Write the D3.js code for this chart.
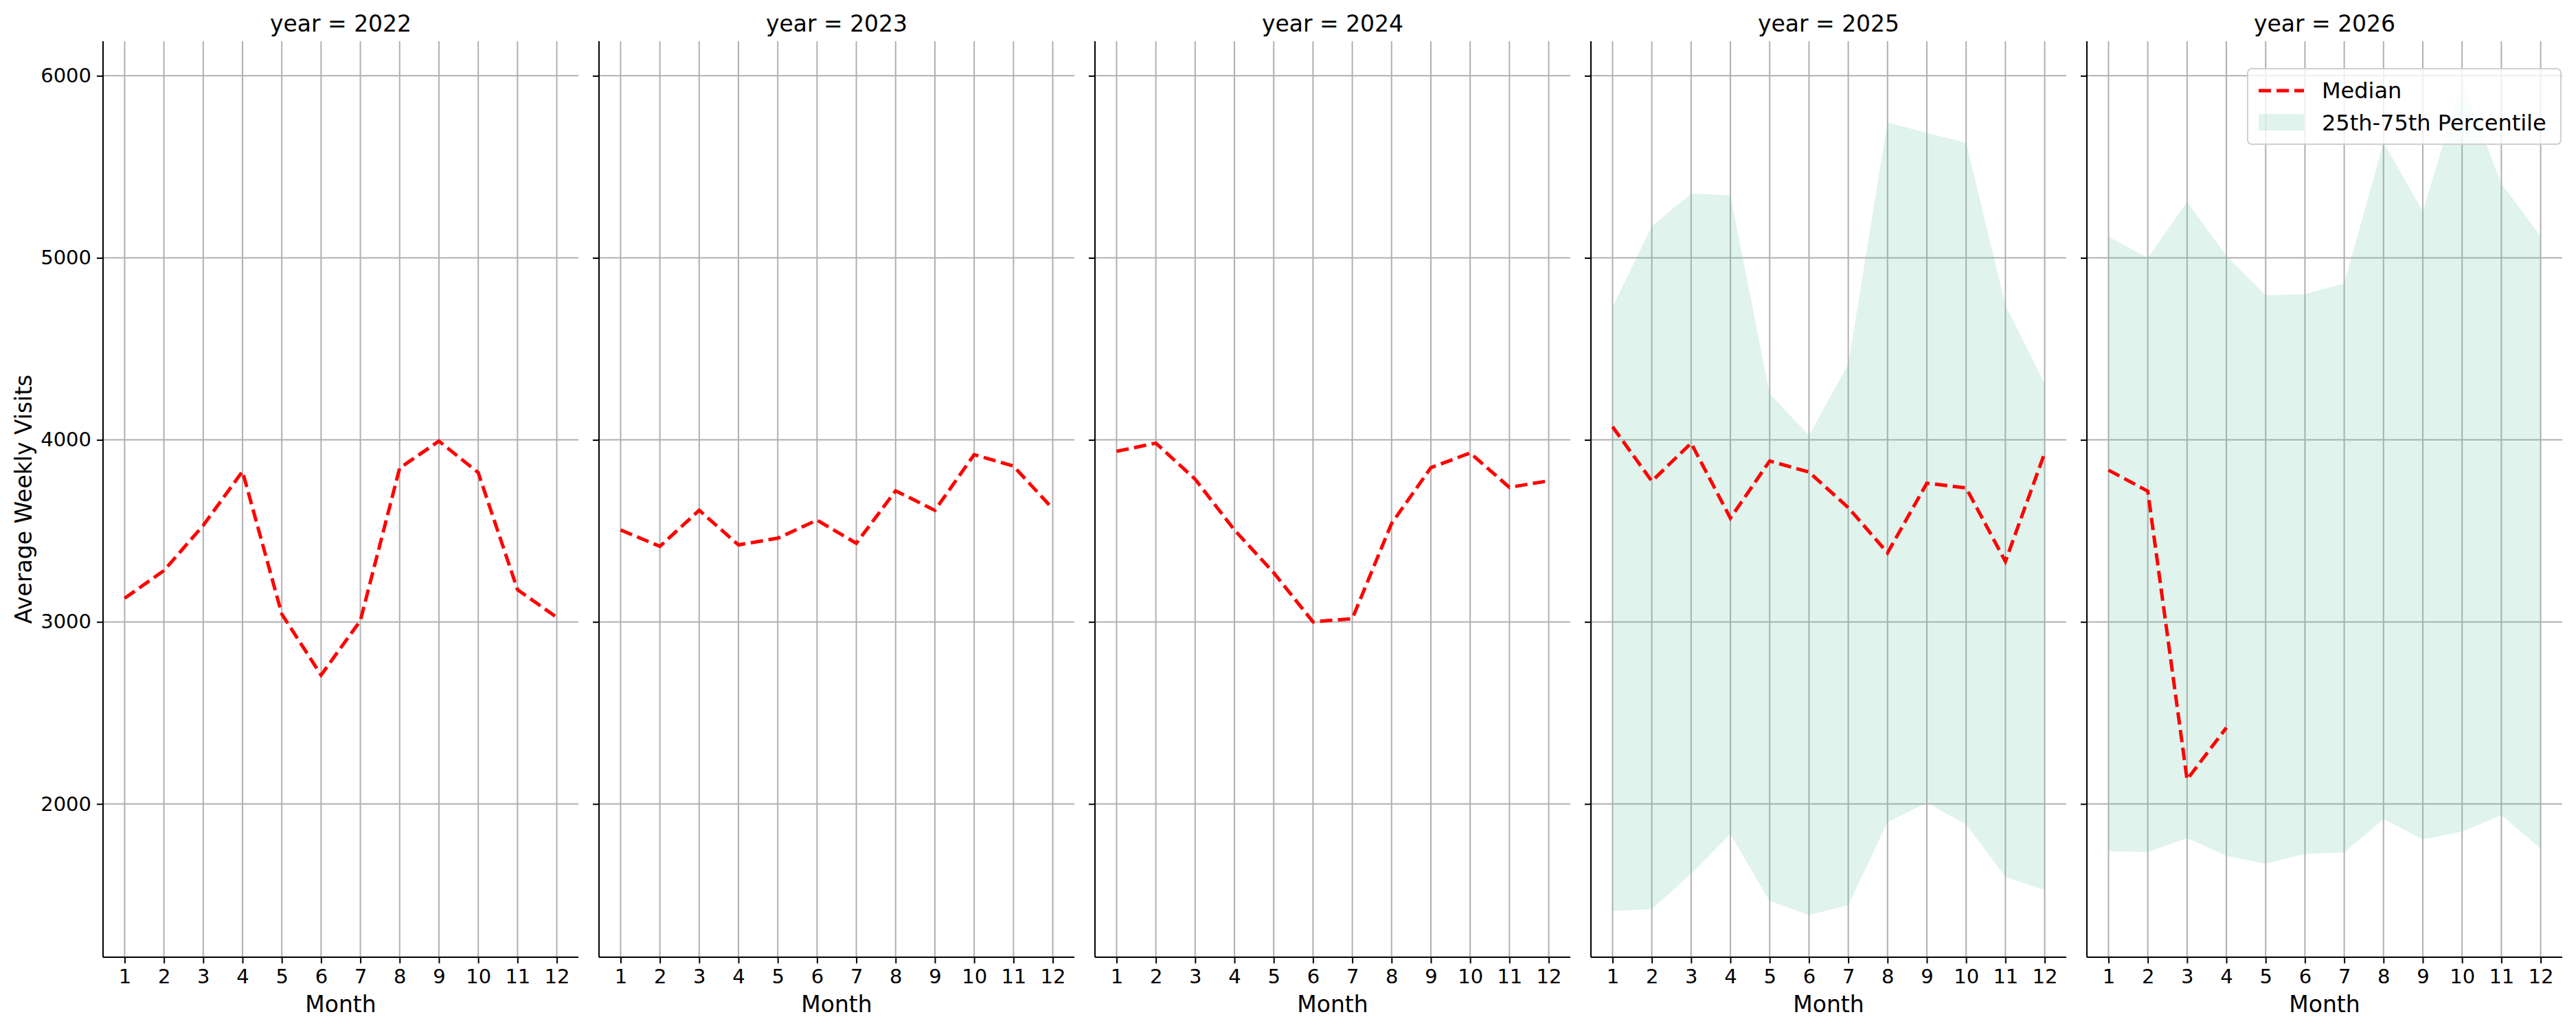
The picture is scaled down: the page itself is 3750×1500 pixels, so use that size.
<!DOCTYPE html>
<html><head><meta charset="utf-8">
<script src="https://cdn.jsdelivr.net/npm/d3@7"></script>
<style>body{margin:0;background:#fff}text{font-family:"DejaVu Sans",sans-serif}</style>
</head><body><svg id="c" width="3750" height="1500"></svg>
<script>
const years = [2022, 2023, 2024, 2025, 2026];
const months = [1,2,3,4,5,6,7,8,9,10,11,12];
const yTicks = [2000, 3000, 4000, 5000, 6000];
const median2022 = [3130,3282,3530,3827,3043,2708,3007,3845,3993,3820,3177,3025];
const median2023 = [3505,3415,3613,3423,3460,3559,3432,3720,3613,3919,3856,3622];
const median2024 = [3937,3982,3784,3505,3270,3000,3018,3541,3847,3928,3739,3775];
const median2025 = [4072,3773,3982,3570,3884,3823,3628,3379,3762,3736,3332,3928];
const median2026 = [3834,3718,2134,2419];
const p25_2025 = [1412,1422,1617,1834,1466,1390,1444,1899,2007,1888,1599,1527];
const p75_2025 = [4729,5173,5354,5343,4253,4025,4415,5744,5686,5632,4740,4307];
const p25_2026 = [1740,1736,1812,1715,1671,1726,1733,1917,1805,1848,1939,1755];
const p75_2026 = [5116,5000,5307,5011,4794,4801,4859,5632,5256,5964,5408,5119];
const medians = [median2022, median2023, median2024, median2025, median2026];
const lows = [null, null, null, p25_2025, p25_2026];
const highs = [null, null, null, p75_2025, p75_2026];

const svg = d3.select("#c");
const topY = 60, bottomY = 1394;
const panelLeft = [150, 872, 1594, 2316, 3038];
const panelW = 692;
const y = d3.scaleLinear().domain([1158, 6190]).range([bottomY, topY]);

years.forEach((yr, i) => {
  const x = d3.scaleLinear().domain([0.45, 12.55]).range([panelLeft[i], panelLeft[i] + panelW]);
  const g = svg.append("g");
  g.selectAll(".gx").data(months).enter().append("line")
    .attr("x1", d => x(d)).attr("x2", d => x(d)).attr("y1", topY).attr("y2", bottomY)
    .attr("stroke", "#b0b0b0").attr("stroke-width", 2);
  g.selectAll(".gy").data(yTicks).enter().append("line")
    .attr("x1", panelLeft[i]).attr("x2", panelLeft[i] + panelW).attr("y1", d => y(d)).attr("y2", d => y(d))
    .attr("stroke", "#b0b0b0").attr("stroke-width", 2);
  if (lows[i]) {
    const area = d3.area().x((d, j) => x(months[j])).y0((d, j) => y(lows[i][j])).y1(d => y(d));
    g.append("path").datum(highs[i]).attr("d", area).attr("fill", "rgb(102,194,165)").attr("fill-opacity", 0.2);
  }
  const line = d3.line().x((d, j) => x(months[j])).y(d => y(d));
  g.append("path").datum(medians[i]).attr("d", line).attr("fill", "none")
    .attr("stroke", "#ff0000").attr("stroke-width", 5).attr("stroke-dasharray", "18,8");
  const xa = g.append("g").attr("transform", `translate(0,${bottomY})`)
    .call(d3.axisBottom(x).tickValues(months).tickSize(9).tickPadding(8));
  xa.selectAll("text").attr("font-size", 29).attr("fill", "#000");
  xa.select(".domain").attr("d", `M${panelLeft[i]},0H${panelLeft[i] + panelW}`).attr("stroke-width", 2);
  xa.selectAll(".tick line").attr("stroke-width", 2);
  const ya = g.append("g").attr("transform", `translate(${panelLeft[i]},0)`)
    .call(d3.axisLeft(y).tickValues(yTicks).tickSize(9).tickPadding(8).tickFormat(i === 0 ? d3.format("d") : () => ""));
  ya.selectAll("text").attr("font-size", 29).attr("fill", "#000");
  ya.select(".domain").attr("d", `M0,${topY}V${bottomY}`).attr("stroke-width", 2);
  ya.selectAll(".tick line").attr("stroke-width", 2);
  g.append("text").attr("x", panelLeft[i] + panelW / 2).attr("y", 46).attr("text-anchor", "middle")
    .attr("font-size", 33).text(`year = ${yr}`);
  g.append("text").attr("x", panelLeft[i] + panelW / 2).attr("y", 1474).attr("text-anchor", "middle")
    .attr("font-size", 33).text("Month");
});
svg.append("text").attr("transform", `translate(46,${(topY + bottomY) / 2}) rotate(-90)`)
  .attr("text-anchor", "middle").attr("font-size", 33).text("Average Weekly Visits");

const lg = svg.append("g").attr("transform", "translate(3272,100)");
lg.append("rect").attr("width", 456).attr("height", 110).attr("rx", 6).attr("fill", "#fff").attr("fill-opacity", 0.8)
  .attr("stroke", "#d0d0d0").attr("stroke-width", 2);
lg.append("line").attr("x1", 16).attr("x2", 82).attr("y1", 32).attr("y2", 32)
  .attr("stroke", "#ff0000").attr("stroke-width", 5).attr("stroke-dasharray", "18,8");
lg.append("rect").attr("x", 16).attr("y", 66).attr("width", 66).attr("height", 24)
  .attr("fill", "rgb(102,194,165)").attr("fill-opacity", 0.2);
lg.append("text").attr("x", 108).attr("y", 43).attr("font-size", 32).text("Median");
lg.append("text").attr("x", 108).attr("y", 90).attr("font-size", 32).text("25th-75th Percentile");
</script></body></html>
